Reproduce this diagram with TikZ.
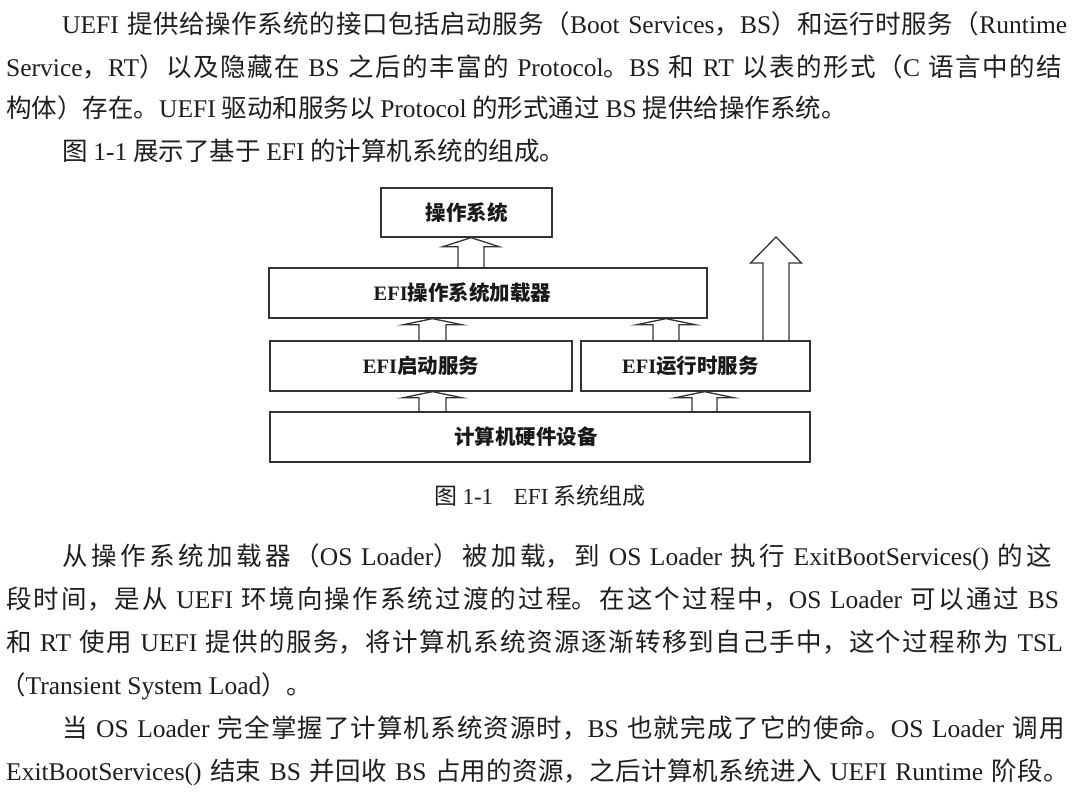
\documentclass[tikz,border=0pt]{standalone}
\usepackage{fontspec}
\setmainfont{Noto Sans CJK SC}
\newfontfamily\latfont{Liberation Serif}
\usetikzlibrary{calc}
\newcommand\E[1]{{\latfont #1}}
\newcommand\sh[2]{\kern-#1pt#2\kern#1pt}
\XeTeXlinebreaklocale "zh"
\XeTeXlinebreakskip=0pt plus 10pt
\tolerance=9999
\hbadness=10000
\hfuzz=30pt
\newcommand\jl[1]{\noindent\parfillskip=0pt #1\par}
\newcommand\blockarrow[5]{%
  \draw[blk] ($(#2)+(-#3,0)$) -- ($(#1)+(-#3,#5)$) -- ($(#1)+(-#4,#5)$) -- (#1)
    -- ($(#1)+(#4,#5)$) -- ($(#1)+(#3,#5)$) -- ($(#2)+(#3,0)$);}
\tikzset{
  bodyfont/.style={font=\fontsize{25.5}{30}\selectfont, text=black!88},
  txtline/.style={bodyfont, anchor=base west, inner sep=0pt, text width=1064pt},
  rline/.style={bodyfont, anchor=base west, inner sep=0pt},
  box/.style={draw=black!80, line width=1.3pt, inner sep=0pt,
    font=\bfseries\fontsize{20.5}{24}\selectfont, text=black!90},
  blk/.style={draw=black!80, line width=1.3pt, line join=miter},
}
\begin{document}
\begin{tikzpicture}[x=1pt,y=-1pt]
\fill[white] (0,0) rectangle (1092,793);
\useasboundingbox (0,0) rectangle (1092,793);

% paragraph 1
\node[txtline] (p1a) at (6,33) {\jl{\hspace*{56pt}\E{UEFI} 提供给操作系统的接口包括启动服务（\E{Boot Services}，\E{BS}）和运行时服务（\E{Runtime}}};
\node[txtline] (p1b) at (6,76) {\jl{\E{Service}，\E{RT}）以及隐藏在 \E{BS} 之后的丰富的 \E{Protocol}。\E{BS} 和 \E{RT} 以表的形式（\E{C} 语言中的结}};
\node[rline] (p1c) at (6,117) {构体）存在。\E{UEFI} 驱动和服务以 \E{Protocol} 的形式通过 \E{BS} 提供给操作系统。};
\node[rline] (p2) at (62,160) {图 \E{1-1} 展示了基于 \E{EFI} 的计算机系统的组成。};

% diagram
\node[box, minimum width=171pt, minimum height=49pt] (os) at (466.5,212.5) {操作系统};
\node[box, minimum width=438pt, minimum height=50pt] (ldr) at (488,293) {\sh{25.5}{\E{EFI}操作系统加载器}};
\node[box, minimum width=302pt, minimum height=50pt] (bs) at (421,366) {\E{EFI}启动服务};
\node[box, minimum width=229pt, minimum height=50pt] (rt) at (695.5,366) {\sh{5}{\E{EFI}运行时服务}};
\node[box, minimum width=540pt, minimum height=50pt] (hw) at (540,437) {\sh{14}{计算机硬件设备}};

\coordinate (a1t) at (471,0 |- os.south);
\coordinate (a1b) at (471,0 |- ldr.north);
\blockarrow{a1t}{a1b}{13}{28}{9}
\coordinate (a2t) at (432.5,0 |- ldr.south);
\coordinate (a2b) at (432.5,0 |- bs.north);
\blockarrow{a2t}{a2b}{13.5}{29}{6}
\coordinate (a3t) at (666,0 |- ldr.south);
\coordinate (a3b) at (666,0 |- rt.north);
\blockarrow{a3t}{a3b}{13}{29}{6}
\coordinate (a4t) at (432.5,0 |- bs.south);
\coordinate (a4b) at (432.5,0 |- hw.north);
\blockarrow{a4t}{a4b}{13.5}{29}{6}
\coordinate (a5t) at (704.5,0 |- rt.south);
\coordinate (a5b) at (704.5,0 |- hw.north);
\blockarrow{a5t}{a5b}{12.5}{29}{6}
\coordinate (exit) at (776,237);
\coordinate (a6b) at (776,0 |- rt.north);
\blockarrow{exit}{a6b}{13}{25.5}{26}

\node[font=\fontsize{23}{27}\selectfont, text=black!88, inner sep=0pt] (cap) at (540,496) {图 \E{1-1}\hspace{0.9em}\E{EFI} 系统组成};

% paragraph 3
\node[txtline] (p3a) at (6,565) {\jl{\hspace*{56pt}从操作系统加载器（\E{OS Loader}）被加载，到 \E{OS Loader} 执行 \E{ExitBootServices()} 的这}};
\node[txtline] (p3b) at (6,608) {\jl{段时间，是从 \E{UEFI} 环境向操作系统过渡的过程。在这个过程中，\E{OS Loader} 可以通过 \E{BS}}};
\node[txtline] (p3c) at (6,651) {\jl{和 \E{RT} 使用 \E{UEFI} 提供的服务，将计算机系统资源逐渐转移到自己手中，这个过程称为 \E{TSL}}};
\node[rline] (p3d) at (0,694) {（\E{Transient System Load}）。};

% paragraph 4
\node[txtline] (p4a) at (6,737) {\jl{\hspace*{56pt}当 \E{OS Loader} 完全掌握了计算机系统资源时，\E{BS} 也就完成了它的使命。\E{OS Loader} 调用}};
\node[txtline] (p4b) at (6,780) {\jl{\E{ExitBootServices()} 结束 \E{BS} 并回收 \E{BS} 占用的资源，之后计算机系统进入 \E{UEFI Runtime} 阶段。}};
\end{tikzpicture}
\end{document}
